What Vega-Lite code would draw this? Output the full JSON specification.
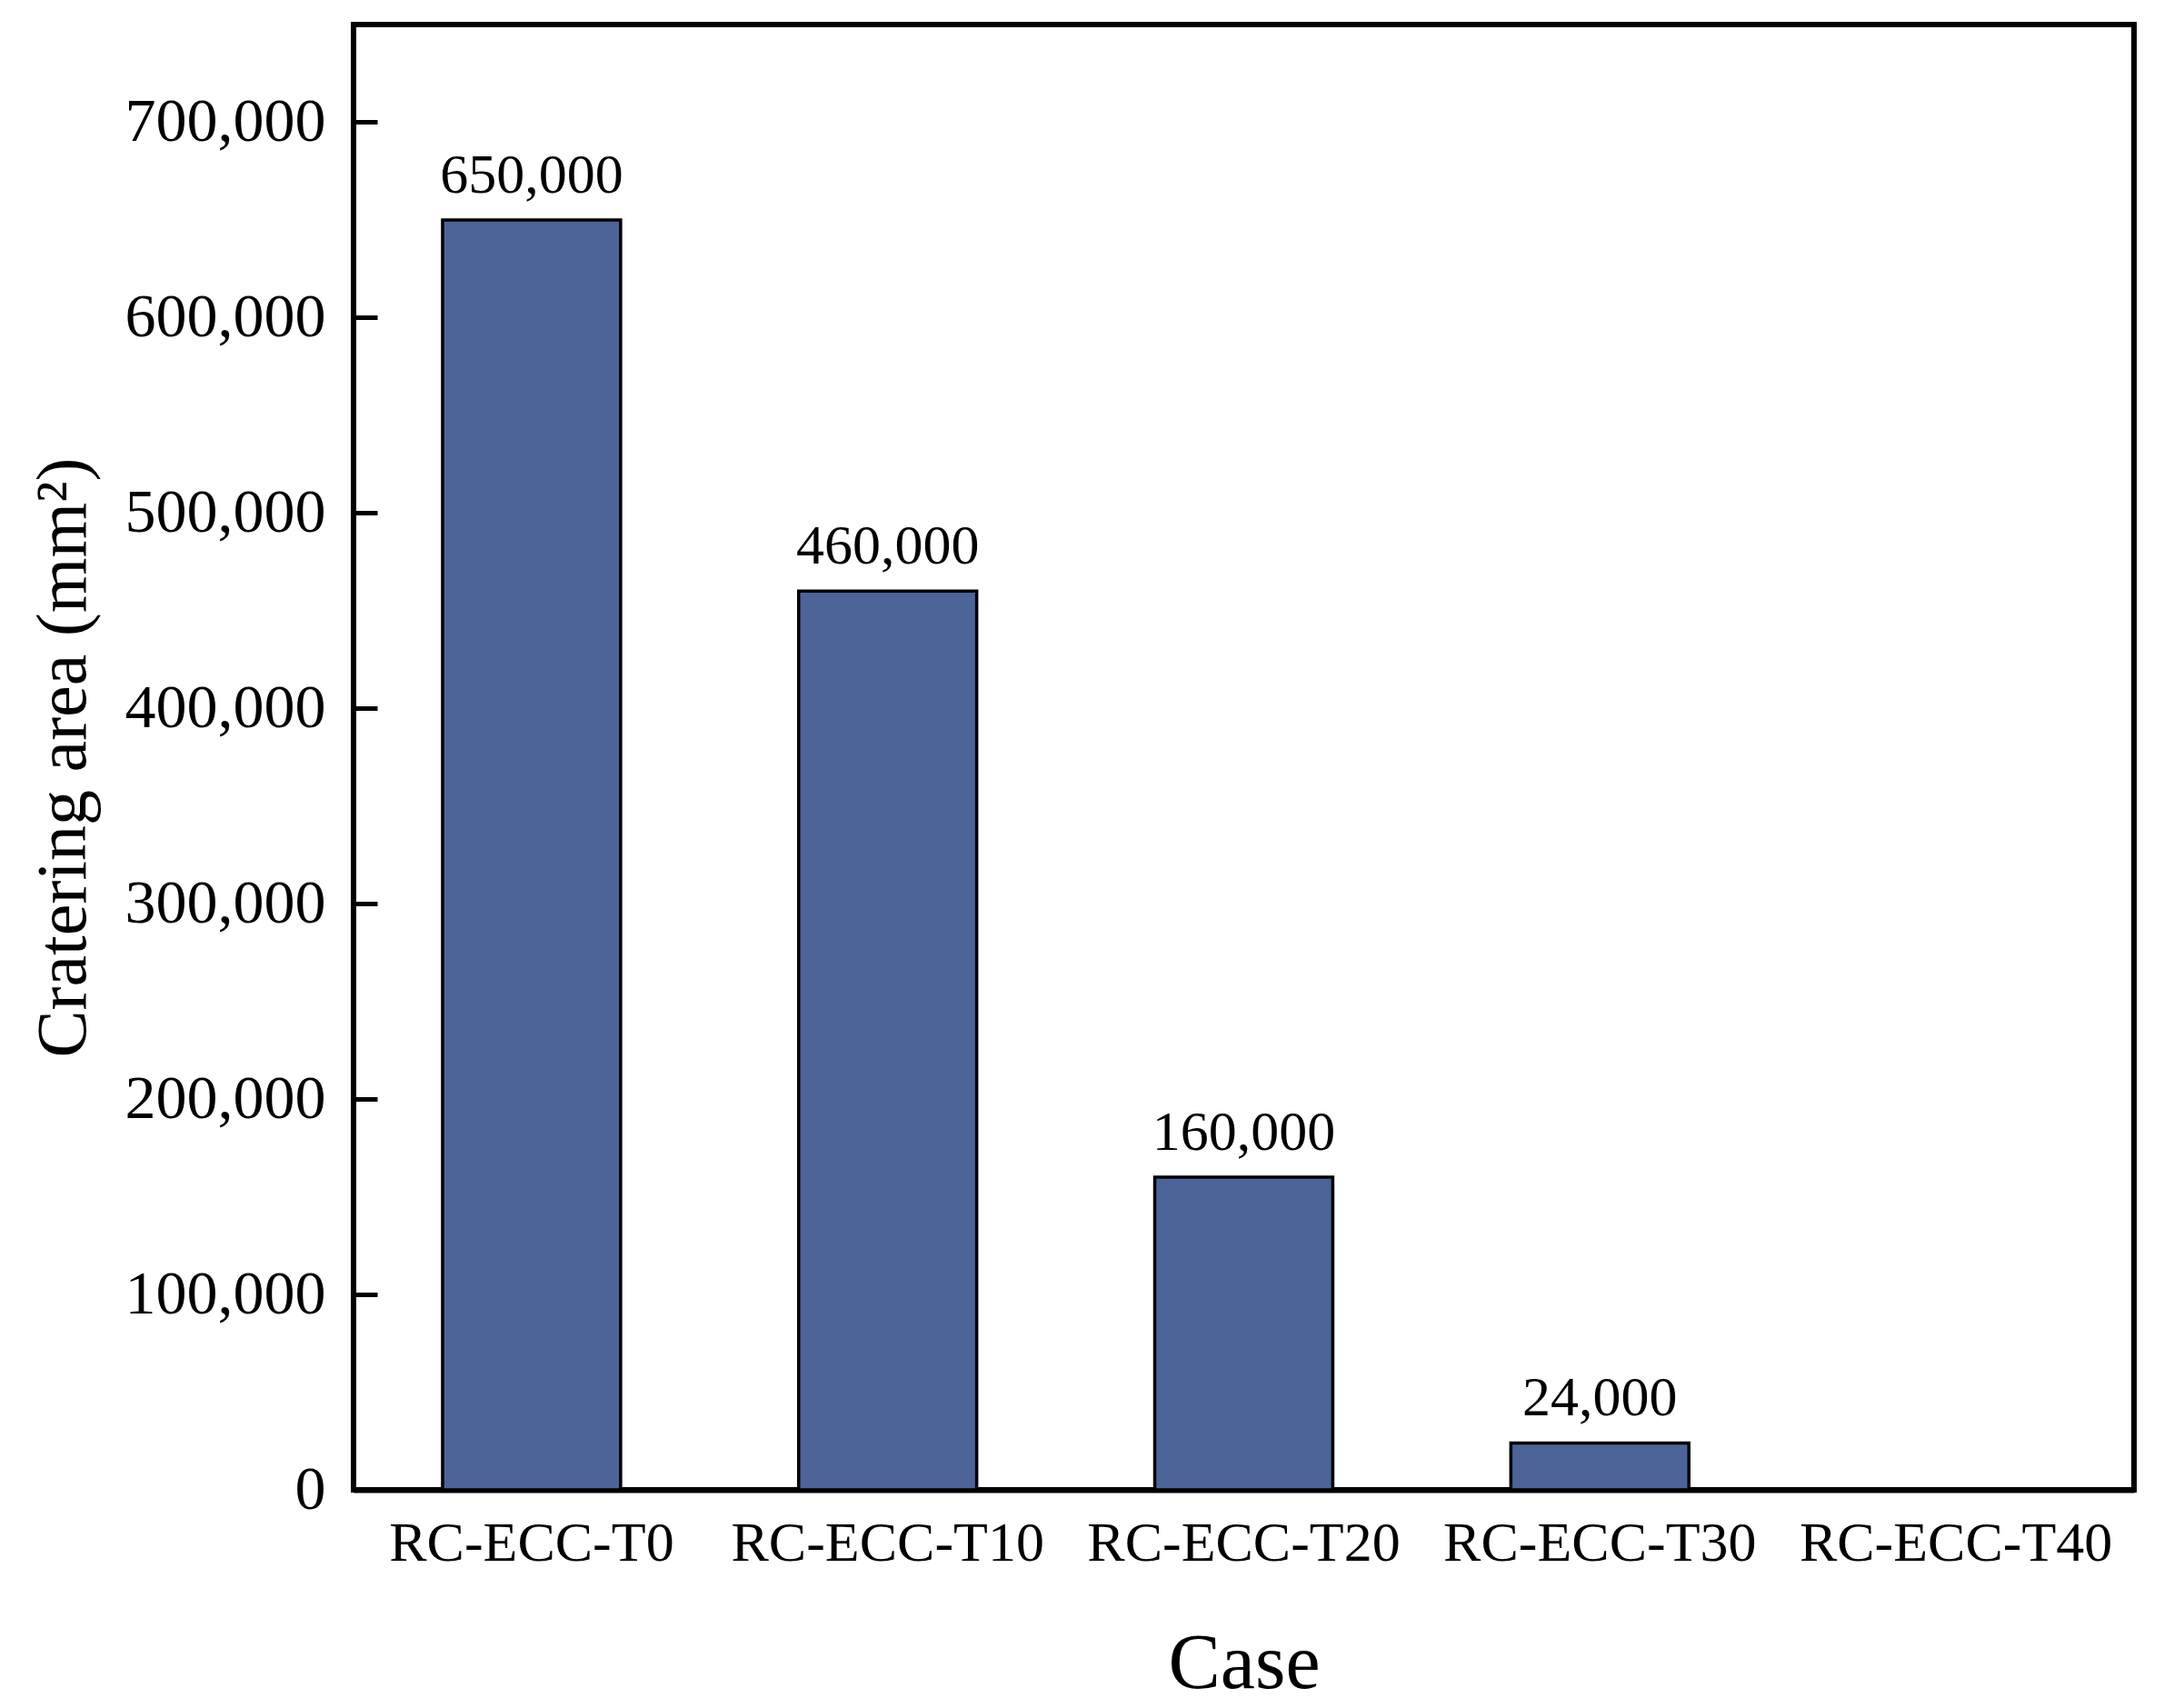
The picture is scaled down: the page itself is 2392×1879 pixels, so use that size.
{
  "$schema": "https://vega.github.io/schema/vega-lite/v6.json",
  "autosize": "none",
  "width": 1959,
  "height": 1612,
  "padding": {"left": 389, "top": 27, "right": 44, "bottom": 240},
  "background": "white",
  "config": {
    "font": "Liberation Serif",
    "view": {"stroke": "black", "strokeWidth": 6},
    "axis": {"labelColor": "black", "titleColor": "black", "labelFont": "Liberation Serif", "titleFont": "Liberation Serif", "titleFontWeight": "normal", "grid": false, "labelLimit": 0}
  },
  "data": {
    "values": [
      {"case": "RC-ECC-T0", "area": 650000, "label": "650,000"},
      {"case": "RC-ECC-T10", "area": 460000, "label": "460,000"},
      {"case": "RC-ECC-T20", "area": 160000, "label": "160,000"},
      {"case": "RC-ECC-T30", "area": 24000, "label": "24,000"},
      {"case": "RC-ECC-T40", "area": 0, "label": ""}
    ]
  },
  "encoding": {
    "x": {
      "field": "case",
      "type": "nominal",
      "sort": null,
      "scale": {"paddingInner": 0.5, "paddingOuter": 0.25},
      "axis": {
        "title": "Case",
        "titleFontSize": 86,
        "titlePadding": 60,
        "labelFontSize": 62,
        "labelAngle": 0,
        "labelPadding": 28,
        "ticks": false,
        "domainColor": "black",
        "domainWidth": 6
      }
    },
    "y": {
      "field": "area",
      "type": "quantitative",
      "scale": {"domain": [0, 750000], "nice": false},
      "axis": {
        "title": "Cratering area (mm²)",
        "titleFontSize": 78,
        "titlePadding": 106,
        "labelFontSize": 68,
        "labelPadding": 31,
        "values": [0, 100000, 200000, 300000, 400000, 500000, 600000, 700000],
        "format": ",d",
        "offset": -26,
        "domain": false,
        "tickSize": 26,
        "tickWidth": 5,
        "tickColor": "black"
      }
    }
  },
  "layer": [
    {
      "mark": {"type": "bar", "fill": "#4D6499", "stroke": "black", "strokeWidth": 3.5}
    },
    {
      "mark": {"type": "text", "fontSize": 62, "baseline": "alphabetic", "dy": -30, "color": "black"},
      "encoding": {"text": {"field": "label"}}
    }
  ]
}
